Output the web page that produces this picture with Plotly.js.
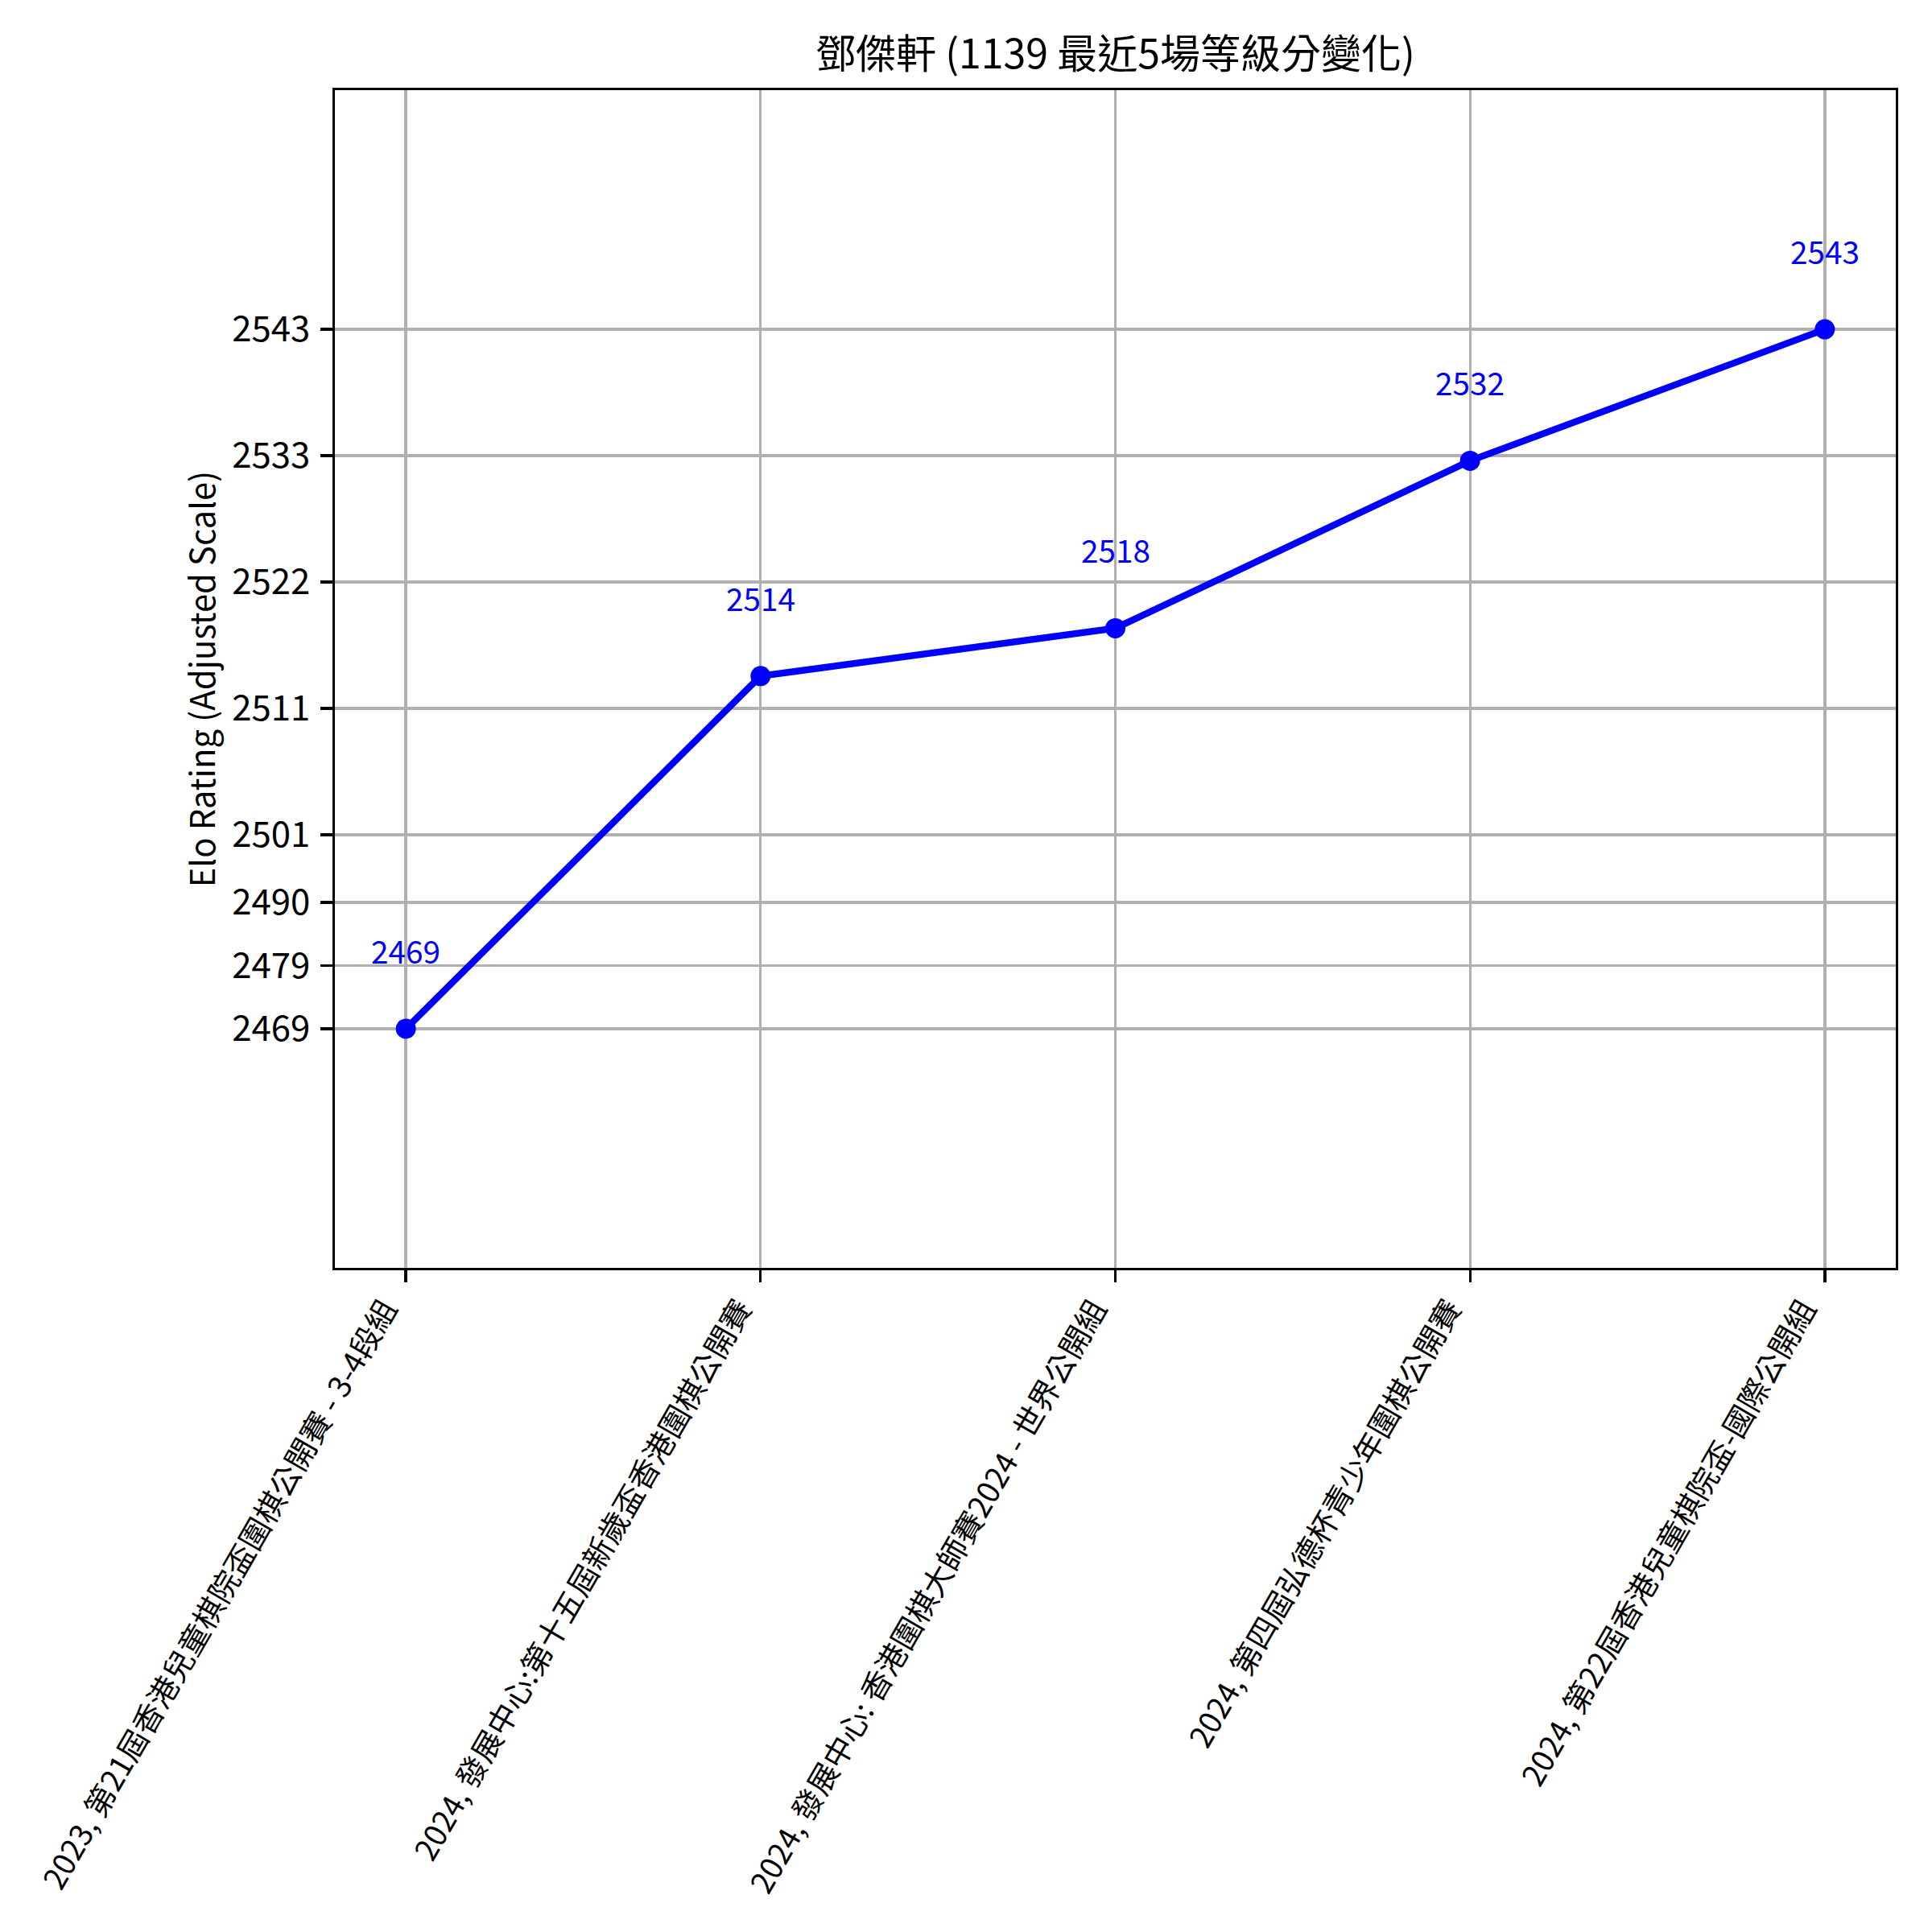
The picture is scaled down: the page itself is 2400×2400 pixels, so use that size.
<!DOCTYPE html>
<html>
<head>
<meta charset="utf-8">
<script src="https://cdn.plot.ly/plotly-3.0.1.min.js"></script>
<style>
  html, body { margin: 0; padding: 0; background: #ffffff; }
  #chart { width: 2400px; height: 2400px; }
</style>
</head>
<body>
<div id="chart"></div>
<script>
// Recent tournaments (x categories)
const events = [
  "2023, 第21屆香港兒童棋院盃圍棋公開賽 - 3-4段組",
  "2024, 發展中心:第十五屆新歲盃香港圍棋公開賽",
  "2024, 發展中心: 香港圍棋大師賽2024 - 世界公開組",
  "2024, 第四屆弘德杯青少年圍棋公開賽",
  "2024, 第22屆香港兒童棋院盃-國際公開組"
];

// Elo rating after each tournament
const ratings = [2469, 2514, 2518, 2532, 2543];

// Labels shown on the y axis ticks
const yTickLabels = ["2469", "2479", "2490", "2501", "2511", "2522", "2533", "2543"];

const playerName = "鄧傑軒";
const playerId = "1139";

// Adjusted scale: ratings below the break are drawn at half height
const SCALE_BREAK = 2500;
const LOWER_COMPRESSION = 0.5;
function adjust(r) {
  return r >= SCALE_BREAK ? r : SCALE_BREAK - (SCALE_BREAK - r) * LOWER_COMPRESSION;
}

const FONT = '"Noto Sans CJK TC", "Noto Sans CJK SC", "Noto Sans", sans-serif';
const PT = 300 / 72; // drawing at 300 dpi

const rMin = Math.min(...ratings);
const rMax = Math.max(...ratings);
const n = yTickLabels.length;
const tickRatings = yTickLabels.map((_, i) => rMin + (rMax - rMin) * i / (n - 1));
const tickVals = tickRatings.map(adjust);

const yAdj = ratings.map(adjust);
const yPad = 20;
const yRange = [adjust(rMin) - yPad, adjust(rMax) + yPad];

const trace = {
  type: 'scatter',
  mode: 'lines+markers',
  x: events,
  y: yAdj,
  line: { color: '#0000ff', width: 2 * PT },
  marker: { color: '#0000ff', size: 6 * PT },
  hoverinfo: 'skip',
  showlegend: false
};

const annotations = ratings.map((r, i) => ({
  x: events[i],
  y: yAdj[i],
  xref: 'x',
  yref: 'y',
  text: String(r),
  showarrow: false,
  xanchor: 'center',
  yanchor: 'bottom',
  yshift: 68,
  font: { family: FONT, size: 9.3 * PT, color: '#0000ff' }
}));

const layout = {
  width: 2400,
  height: 2400,
  paper_bgcolor: '#ffffff',
  plot_bgcolor: '#ffffff',
  margin: { l: 416, r: 45, t: 112, b: 825, pad: 0 },
  font: { family: FONT, color: '#000000' },
  title: {
    text: `${playerName} (${playerId} 最近${ratings.length}場等級分變化)`,
    font: { family: FONT, size: 12 * PT, color: '#000000' },
    x: 0.5, xref: 'paper', xanchor: 'center',
    y: 1 - 67 / 2400, yref: 'container', yanchor: 'middle'
  },
  xaxis: {
    type: 'category',
    range: [-0.2, events.length - 1 + 0.2],
    tickangle: -60,
    tickfont: { family: FONT, size: 9.1 * PT, color: '#000000' },
    ticks: 'outside',
    ticklen: 3.5 * PT,
    tickwidth: 0.8 * PT,
    tickcolor: '#000000',
    showgrid: true,
    gridcolor: '#b0b0b0',
    gridwidth: 0.8 * PT,
    showline: true,
    linecolor: '#000000',
    linewidth: 0.8 * PT,
    mirror: true,
    zeroline: false,
    automargin: false,
    ticklabelstandoff: -4,
    ticklabelshift: -26
  },
  yaxis: {
    range: yRange,
    tickmode: 'array',
    tickvals: tickVals,
    ticktext: yTickLabels,
    tickfont: { family: FONT, size: 10.5 * PT, color: '#000000' },
    ticks: 'outside',
    ticklen: 3.5 * PT,
    tickwidth: 0.8 * PT,
    tickcolor: '#000000',
    showgrid: true,
    gridcolor: '#b0b0b0',
    gridwidth: 0.8 * PT,
    showline: true,
    linecolor: '#000000',
    linewidth: 0.8 * PT,
    mirror: true,
    zeroline: false,
    automargin: false,
    ticklabelstandoff: 4,
    title: {
      text: 'Elo Rating (Adjusted Scale)',
      font: { family: FONT, size: 10 * PT, color: '#000000' },
      standoff: 8
    }
  },
  annotations: annotations
};

Plotly.newPlot('chart', [trace], layout, { displayModeBar: false, staticPlot: true });
</script>
</body>
</html>
